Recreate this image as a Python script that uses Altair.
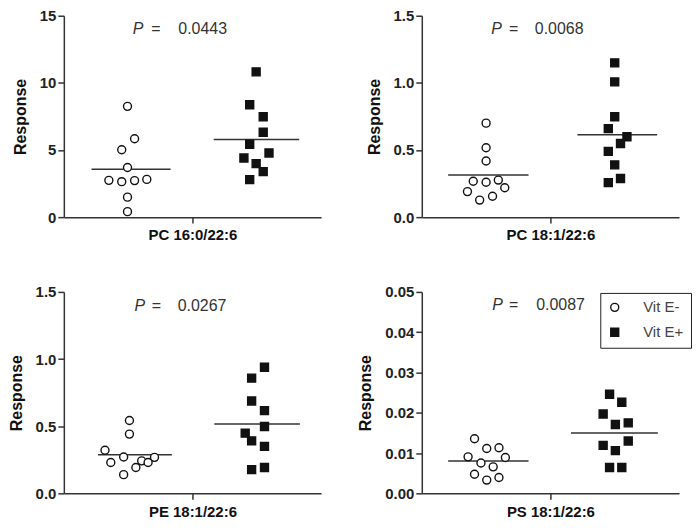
import altair as alt
import pandas as pd

FONT = "Liberation Sans"

# ---------------- data ----------------
panel_names = ["PC 16:0/22:6", "PC 18:1/22:6", "PE 18:1/22:6", "PS 18:1/22:6"]
p_values = ["0.0443", "0.0068", "0.0267", "0.0087"]
groups = ["Vit E-", "Vit E+"]

y_max = [15, 1.5, 1.5, 0.05]
y_ticks = [[0, 5, 10, 15], [0, 0.5, 1.0, 1.5], [0, 0.5, 1.0, 1.5],
           [0, 0.01, 0.02, 0.03, 0.04, 0.05]]
y_formats = ["d", ".1f", ".1f", ".2f"]

pc160_minus_y = [8.25, 5.84, 5.02, 3.70, 2.74, 2.64, 2.72, 2.81, 1.49, 0.41]
pc160_minus_x = [0.99, 1.10, 0.90, 0.99, 0.70, 0.90, 1.10, 1.29, 0.99, 0.99]
pc160_plus_y = [10.82, 8.37, 7.48, 6.32, 5.43, 4.78, 4.40, 3.99, 3.39, 2.79]
pc160_plus_x = [2.99, 2.89, 3.10, 3.10, 2.89, 3.19, 2.80, 2.99, 3.10, 2.89]

pc181_minus_y = [0.700, 0.517, 0.418, 0.267, 0.260, 0.276, 0.190, 0.219, 0.127, 0.156]
pc181_minus_x = [1.00, 1.00, 1.00, 0.80, 1.00, 1.19, 0.71, 1.29, 0.90, 1.10]
pc181_plus_y = [1.149, 1.007, 0.748, 0.659, 0.599, 0.548, 0.490, 0.389, 0.288, 0.257]
pc181_plus_x = [3.00, 3.00, 3.00, 2.90, 3.19, 3.09, 2.90, 3.00, 3.09, 2.90]

pe181_minus_y = [0.542, 0.441, 0.321, 0.271, 0.230, 0.242, 0.230, 0.268, 0.192, 0.139]
pe181_minus_x = [1.02, 1.02, 0.64, 0.93, 0.73, 1.21, 1.31, 1.41, 1.12, 0.93]
pe181_plus_y = [0.939, 0.858, 0.688, 0.616, 0.498, 0.448, 0.391, 0.350, 0.192, 0.177]
pe181_plus_x = [3.12, 2.92, 2.92, 3.12, 3.12, 2.82, 2.92, 3.12, 3.12, 2.92]

ps181_minus_y = [0.01354, 0.01114, 0.01130, 0.00905, 0.00889, 0.00753, 0.00657,
                 0.00473, 0.00393, 0.00329]
ps181_minus_x = [0.82, 1.01, 1.20, 0.72, 1.30, 0.92, 1.11, 0.82, 1.20, 1.01]
ps181_plus_y = [0.0246, 0.0226, 0.0197, 0.0175, 0.0171, 0.0130, 0.0119, 0.0106,
                0.0064, 0.0064]
ps181_plus_x = [2.92, 3.11, 2.82, 3.21, 3.01, 3.21, 2.82, 3.01, 2.92, 3.11]

# mean line extents (x units) per panel: [minus start, minus end, plus start, plus end]
mean_extents = [[0.43, 1.66, 2.33, 3.66], [0.41, 1.66, 2.42, 3.66],
                [0.53, 1.68, 2.34, 3.67], [0.41, 1.66, 2.32, 3.67]]

# annotation positions (data units): P x, '=' x, value x, y
p_text_pos = [[1.155, 1.43, 1.78, 14.0], [1.163, 1.43, 1.757, 1.4],
              [1.18, 1.44, 1.77, 1.392], [1.178, 1.43, 1.778, 0.0467]]

all_data = [
    (pc160_minus_x, pc160_minus_y, pc160_plus_x, pc160_plus_y),
    (pc181_minus_x, pc181_minus_y, pc181_plus_x, pc181_plus_y),
    (pe181_minus_x, pe181_minus_y, pe181_plus_x, pe181_plus_y),
    (ps181_minus_x, ps181_minus_y, ps181_plus_x, ps181_plus_y),
]

legend = alt.Legend(
    title=None, orient="none", legendX=538, legendY=278,
    strokeColor="#222", padding=7, rowPadding=9,
    labelFont=FONT, labelFontSize=15, labelColor="#444", labelOffset=21,
    symbolSize=64, symbolStrokeWidth=1.4,
)
shape_scale = alt.Scale(domain=groups, range=["circle", "square"])
fill_scale = alt.Scale(domain=groups, range=["white", "#111"])
stroke_scale = alt.Scale(domain=groups, range=["#111", "#111"])

PANEL_W = 258
PANEL_H = 202


def make_panel(i):
    mx, my, px, py = all_data[i]
    df = pd.DataFrame({
        "group": [groups[0]] * len(my) + [groups[1]] * len(py),
        "x": mx + px,
        "y": my + py,
    })
    ext = mean_extents[i]
    means = pd.DataFrame({
        "x": [ext[0], ext[2]],
        "x2": [ext[1], ext[3]],
        "y": [sum(my) / len(my), sum(py) / len(py)],
    })
    xscale = alt.Scale(domain=[0, 4], nice=False, zero=False)
    yscale = alt.Scale(domain=[0, y_max[i]], nice=False, zero=True)
    xaxis = alt.Axis(values=[2], labels=False, title=panel_names[i],
                     titleFont=FONT, titleFontSize=15, titleFontWeight="bold",
                     titleColor="#111", titlePadding=4, tickSize=6,
                     tickWidth=1.5, domainWidth=1.5, domainColor="#333",
                     tickColor="#333", grid=False)
    yaxis = alt.Axis(values=y_ticks[i], format=y_formats[i], title="Response",
                     labelFont=FONT, labelFontSize=15, labelFontWeight="bold",
                     labelColor="#222", labelPadding=2, tickSize=6,
                     tickWidth=1.5, domainWidth=1.5, domainColor="#333",
                     tickColor="#333", titleFont=FONT, titleFontSize=16,
                     titleFontWeight="bold", titleColor="#111",
                     titlePadding=11, grid=False)

    points = alt.Chart(df).mark_point(
        filled=False, strokeWidth=1.4, size=64, opacity=1
    ).encode(
        x=alt.X("x:Q", scale=xscale, axis=xaxis),
        y=alt.Y("y:Q", scale=yscale, axis=yaxis),
        shape=alt.Shape("group:N", scale=shape_scale, legend=legend),
        fill=alt.Fill("group:N", scale=fill_scale, legend=legend),
        stroke=alt.Stroke("group:N", scale=stroke_scale, legend=legend),
    )
    lines = alt.Chart(means).mark_rule(color="#333", strokeWidth=1.5).encode(
        x="x:Q", x2="x2:Q", y="y:Q"
    )
    tp = p_text_pos[i]
    tdf = pd.DataFrame({"px": [tp[0]], "ex": [tp[1]], "vx": [tp[2]],
                        "ty": [tp[3]], "val": [p_values[i]]})
    t_p = alt.Chart(tdf).mark_text(
        text="P", font=FONT, fontSize=16, fontStyle="italic", color="#333",
        align="center", baseline="middle"
    ).encode(x="px:Q", y="ty:Q")
    t_eq = alt.Chart(tdf).mark_text(
        text="=", font=FONT, fontSize=16, color="#333",
        align="center", baseline="middle"
    ).encode(x="ex:Q", y="ty:Q")
    t_val = alt.Chart(tdf).mark_text(
        font=FONT, fontSize=16, color="#333", align="left", baseline="middle"
    ).encode(x="vx:Q", y="ty:Q", text="val:N")
    return alt.layer(lines, points, t_p, t_eq, t_val).properties(
        width=PANEL_W, height=PANEL_H
    )


chart = alt.concat(
    *[make_panel(i) for i in range(4)], columns=2,
    spacing={"row": 42, "column": 36}
).resolve_scale(shape="shared", fill="shared", stroke="shared").resolve_legend(
    shape="shared", fill="shared", stroke="shared"
).properties(padding=0).configure_view(stroke=None)

chart.save("out.html", embed_options={"renderer": "svg", "actions": False})
